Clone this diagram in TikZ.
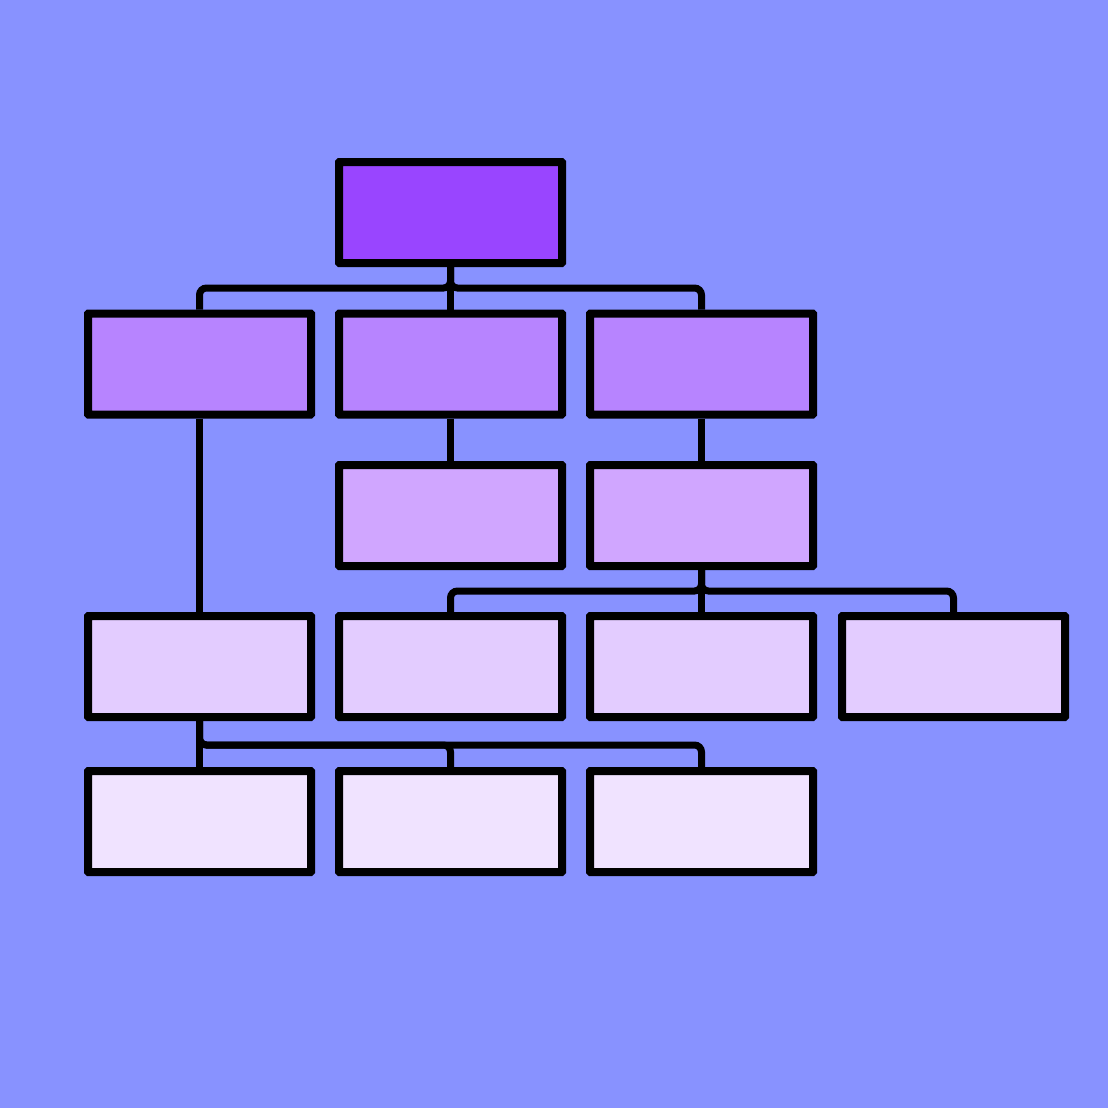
\documentclass[tikz,border=0pt]{standalone}
\usetikzlibrary{calc}
\definecolor{bg}{HTML}{8892FF}
\definecolor{lv1}{HTML}{9945FF}
\definecolor{lv2}{HTML}{B784FF}
\definecolor{lv3}{HTML}{D0A6FF}
\definecolor{lv4}{HTML}{E3CCFF}
\definecolor{lv5}{HTML}{F0E3FF}
\tikzset{
  box/.style={draw=black, line width=8pt, rectangle, minimum width=223pt, minimum height=101pt, inner sep=0pt, rounded corners=0.6pt},
  link/.style={draw=black, line width=7pt, rounded corners=7pt}
}
\begin{document}
\begin{tikzpicture}[x=1pt,y=-1pt]
\fill[bg] (0,0) rectangle (1108,1108);
\useasboundingbox (0,0) rectangle (1108,1108);
% nodes
\node[box, fill=lv1] (top) at (450.5,212.5) {};
\node[box, fill=lv2] (b1) at (199.5,364) {};
\node[box, fill=lv2] (b2) at (450.5,364) {};
\node[box, fill=lv2] (b3) at (701.5,364) {};
\node[box, fill=lv3] (c2) at (450.5,515.5) {};
\node[box, fill=lv3] (c3) at (701.5,515.5) {};
\node[box, fill=lv4] (d1) at (199.5,666.5) {};
\node[box, fill=lv4] (d2) at (450.5,666.5) {};
\node[box, fill=lv4] (d3) at (701.5,666.5) {};
\node[box, fill=lv4] (d4) at (953.5,666.5) {};
\node[box, fill=lv5] (e1) at (199.5,821.5) {};
\node[box, fill=lv5] (e2) at (450.5,821.5) {};
\node[box, fill=lv5] (e3) at (701.5,821.5) {};
% connectors
\path[link] (top.south) -- (top.south |- 0,288) -- (b1.north |- 0,288) -- (b1.north);
\path[link] (top.south) -- (top.south |- 0,288) -- (b3.north |- 0,288) -- (b3.north);
\path[link] (top.south) -- (b2.north);
\path[link] (b1.south) -- (d1.north);
\path[link] (b2.south) -- (c2.north);
\path[link] (b3.south) -- (c3.north);
\path[link] (c3.south) -- (c3.south |- 0,591) -- (d2.north |- 0,591) -- (d2.north);
\path[link] (c3.south) -- (c3.south |- 0,591) -- (d4.north |- 0,591) -- (d4.north);
\path[link] (c3.south) -- (d3.north);
\path[link] (d1.south) -- (e1.north);
\path[link] (d1.south) -- (d1.south |- 0,745) -- (e3.north |- 0,745) -- (e3.north);
\path[link] (d1.south) -- (d1.south |- 0,745) -- (e2.north |- 0,745) -- (e2.north);
\end{tikzpicture}
\end{document}
